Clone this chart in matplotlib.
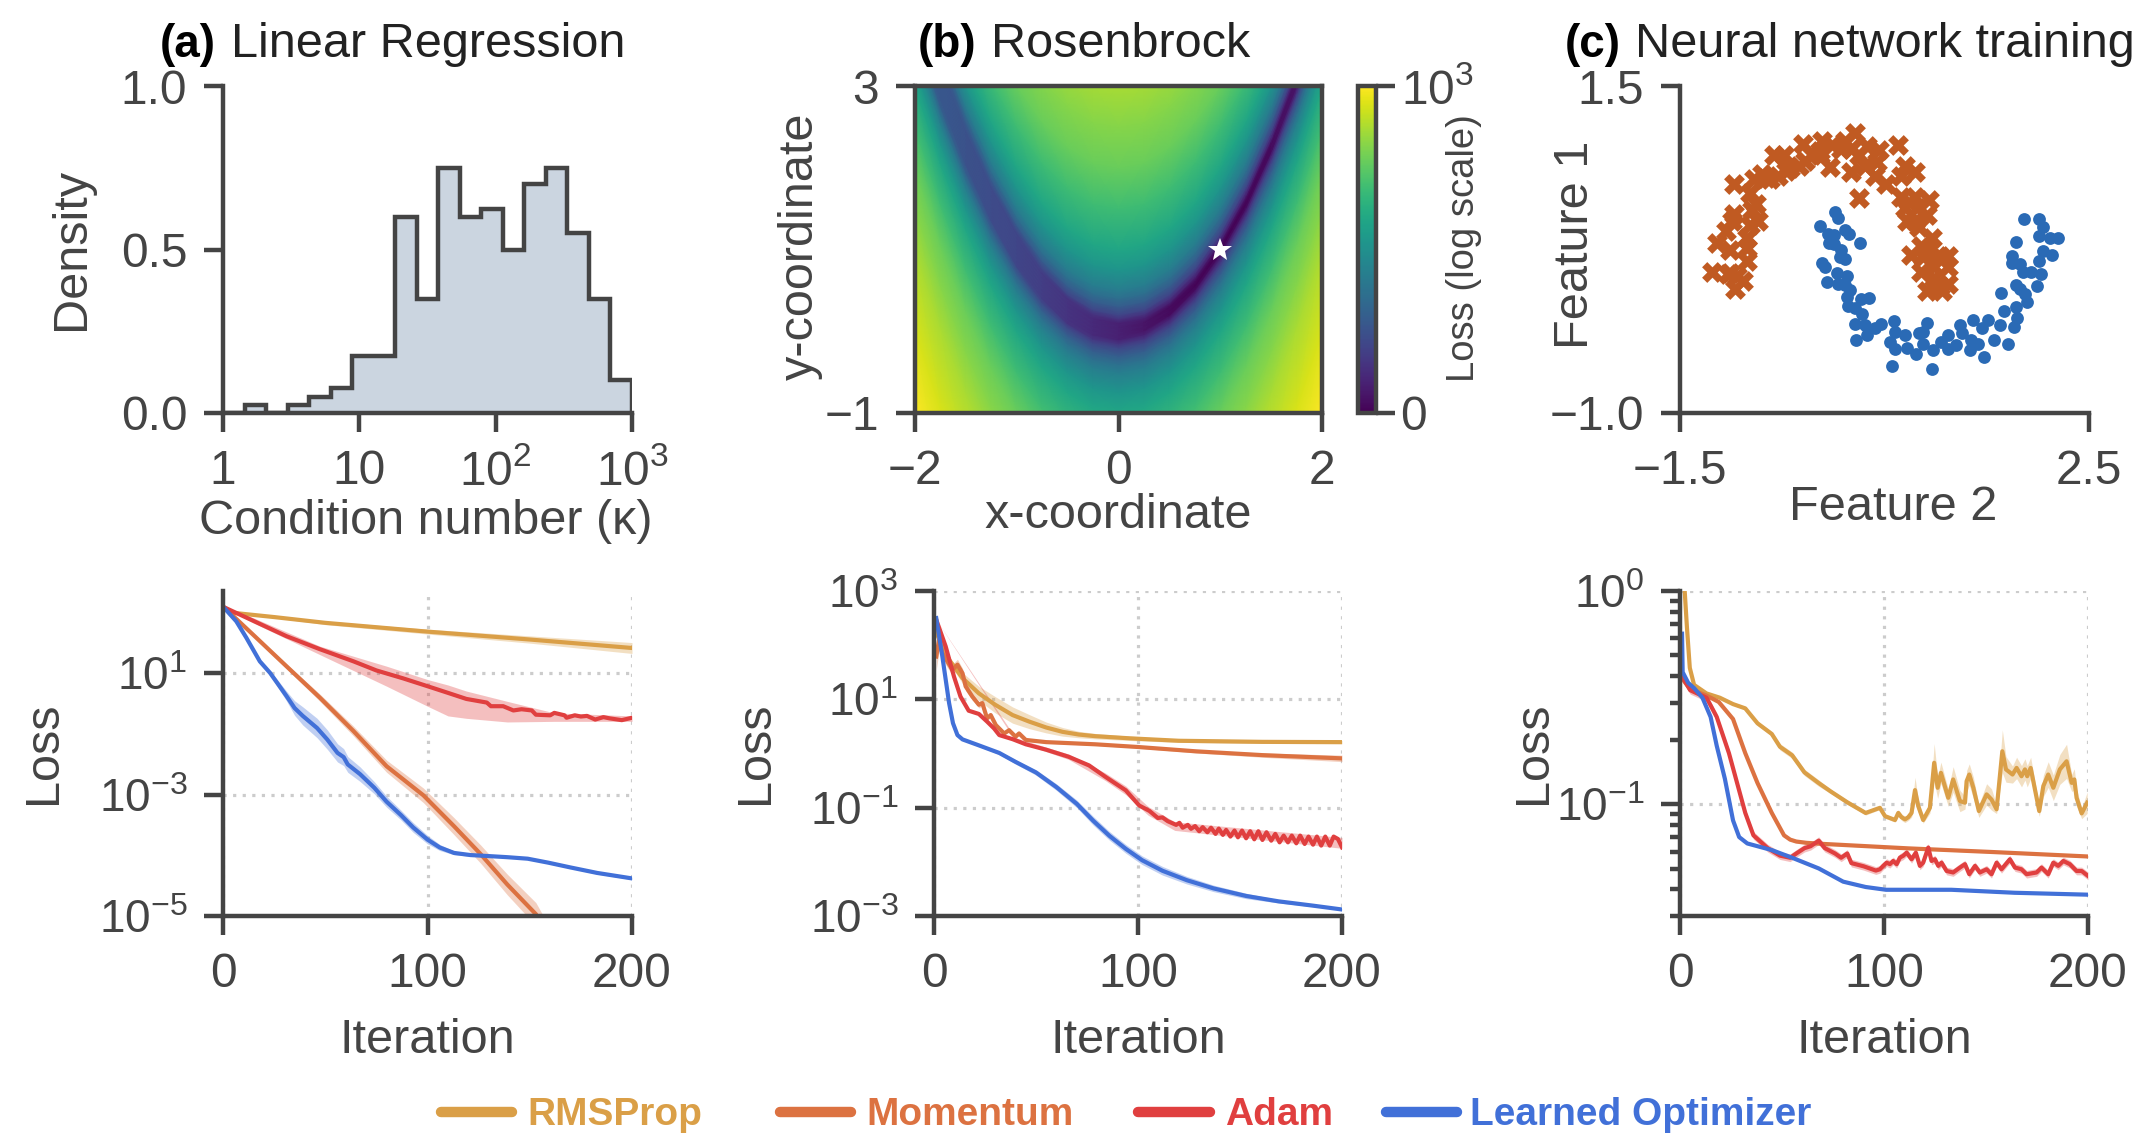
import matplotlib
matplotlib.use("Agg")
import matplotlib.pyplot as plt
from matplotlib.lines import Line2D
from matplotlib.ticker import NullLocator
import numpy as np

plt.rcParams['font.family'] = ['Liberation Sans', 'DejaVu Sans']
plt.rcParams['mathtext.fontset'] = 'custom'
plt.rcParams['mathtext.rm'] = 'Liberation Sans'
plt.rcParams['mathtext.default'] = 'regular'

GREY = '#444444'
RMS_COL = '#da9f47'
MOM_COL = '#dc7241'
ADAM_COL = '#e03f3f'
LEARNED_COL = '#4170d8'

# histogram of condition numbers
hist_edges = [1, 1.44, 2.07, 2.98, 4.28, 6.16, 8.86, 12.7, 18.3, 26.4, 37.9, 54.6, 78.5,
              113, 162, 234, 336, 483, 695, 1000]
hist_density = [0, 0.025, 0, 0.025, 0.05, 0.075, 0.175, 0.175, 0.6, 0.35, 0.75, 0.6, 0.625,
                0.5, 0.7, 0.75, 0.55, 0.35, 0.1]

# rosenbrock picture: read along the valley, then by distance above/below the valley
ros_x = [-2, -1.75, -1.5, -1.25, -1, -0.75, -0.5, -0.25, 0, 0.25, 0.5, 0.75, 1, 1.25, 1.5, 1.75, 2]
ros_valley_y = [4, 3.06, 2.25, 1.56, 1, 0.56, 0.25, 0.06, 0, 0.06, 0.25, 0.56, 1, 1.56, 2.25, 3.06, 4]
ros_valley_level = [0.29, 0.27, 0.25, 0.23, 0.21, 0.18, 0.15, 0.12, 0.09, 0.056, 0.03, 0.01, 0,
                    0.01, 0.03, 0.056, 0.09]
ros_offset = [-5, -4, -3, -2.5, -2, -1.5, -1, -0.75, -0.5, -0.4, -0.3, -0.2, -0.15, -0.1, -0.05, 0,
              0.05, 0.1, 0.15, 0.2, 0.3, 0.4, 0.5, 0.75, 1, 1.5, 2, 2.5, 3]
ros_offset_level = [1.0, 0.94, 0.87, 0.82, 0.77, 0.69, 0.59, 0.52, 0.42, 0.36, 0.29, 0.21, 0.15, 0.09, 0.03, 0,
                    0.03, 0.09, 0.15, 0.21, 0.29, 0.36, 0.42, 0.52, 0.59, 0.69, 0.77, 0.82, 0.87]
ros_star = (1, 1)

# two moons
moon_top_x = [-1.19, -1.01, -0.94, -0.88, -0.96, -1.03, -0.84, -0.84, -0.84, -1.01, -1.14, -1.05, -0.99, -0.97,
              -0.82, -0.74, -0.80, -0.76, -0.82, -0.97, -0.78, -0.70, -0.62, -0.54, -0.46, -0.58, -0.48, -0.34,
              -0.28, -0.30, -0.13, -0.11, -0.01, -0.03, 0.11, 0.21, 0.17, 0.25, 0.33, 0.45, 0.43, 0.31, 0.17,
              0.41, 0.51, 0.63, 0.70, 0.66, 0.80, 0.25, 0.66, 0.80, 0.94, 0.70, 0.92, 0.80, 0.72, 0.84, 0.96,
              0.86, 0.76, 0.88, 1.12, 1.04, 1.12, 0.86, 0.98, 0.98, 1.12, 1.04, 0.92, 1.06, 0.92, 0.82, 0.74,
              -0.13, 0.07, -0.21, -0.42, -0.66]
moon_top_y = [0.08, 0.07, 0.05, 0.01, -0.05, 0.06, 0.16, 0.26, 0.34, 0.25, 0.30, 0.39, 0.47, 0.52,
              0.44, 0.47, 0.55, 0.60, 0.68, 0.75, 0.79, 0.83, 0.79, 0.81, 0.85, 0.97, 0.97, 0.89,
              0.93, 1.06, 0.97, 1.08, 1.05, 0.88, 1.08, 1.14, 1.02, 0.97, 1.04, 1.01, 0.92, 0.89, 0.84,
              0.81, 0.75, 1.05, 0.89, 0.81, 0.84, 0.64, 0.65, 0.65, 0.63, 0.57, 0.51, 0.47, 0.47, 0.42, 0.34,
              0.28, 0.21, 0.19, 0.20, 0.20, 0.12, 0.08, 0.12, 0.03, -0.01, -0.03, -0.07, -0.07, 0.23, 0.57, 0.61,
              1.00, 1.02, 0.97, 0.87, 0.80]
moon_low_x = [0.02, 0.05, -0.13, -0.05, 0.01, 0.11, 0.15, -0.04, 0.01, 0.26, 0.07, 0.06, 0.11, -0.11, -0.08,
              0.04, 0.13, -0.06, 0.05, 0.11, 0.16, 0.13, 0.14, 0.21, 0.27, 0.35, 0.28, 0.21, 0.31, 0.47, 0.41,
              0.33, 0.22, 0.59, 0.60, 0.70, 0.55, 0.60, 0.72, 0.81, 0.88, 0.92, 0.88, 0.84, 0.57, 0.96, 0.97,
              1.05, 1.12, 1.12, 1.20, 1.24, 1.26, 1.35, 1.41, 1.34, 1.47, 1.57, 1.71, 1.37, 1.45, 1.51, 1.63,
              1.77, 1.67, 1.79, 1.80, 1.64, 1.79, 1.83, 1.87, 1.89, 1.99, 2.03, 1.93, 2.01, 2.14, 2.05, 1.75,
              1.75, 1.83, 1.79, 1.86, 2.01, 2.05, 2.01, 2.12, 2.20, 1.85]
moon_low_y = [0.54, 0.49, 0.43, 0.37, 0.36, 0.40, 0.37, 0.30, 0.29, 0.30, 0.25, 0.19, 0.18, 0.15, 0.12,
              0.07, 0.05, 0.00, -0.01, -0.02, -0.06, -0.11, -0.18, -0.20, -0.13, -0.12, -0.24, -0.32, -0.33,
              -0.32, -0.35, -0.40, -0.44, -0.30, -0.38, -0.40, -0.46, -0.51, -0.50, -0.55, -0.47, -0.31, -0.38,
              -0.39, -0.64, -0.66, -0.52, -0.46, -0.40, -0.51, -0.48, -0.33, -0.39, -0.44, -0.47, -0.52, -0.57,
              -0.44, -0.47, -0.29, -0.35, -0.29, -0.33, -0.34, -0.22, -0.19, -0.27, -0.08, -0.02, -0.05, -0.09,
              -0.15, -0.03, 0.06, 0.08, 0.16, 0.21, 0.24, 0.20, 0.15, 0.14, 0.31, 0.48, 0.48, 0.42, 0.35, 0.34,
              0.34, 0.08]

# loss curves: log10(loss) as read on each panel's axis, with band half widths
lr_rms_iter = [0, 5, 25, 50, 100, 150, 200]
lr_rms_log = [0.10, 0.0, -0.07, -0.165, -0.31, -0.44, -0.58]
lr_rms_spread = [0, 0.005, 0.01, 0.03, 0.04, 0.06, 0.09]
lr_mom_iter = [0, 0.8, 14.7, 31, 47.4, 63.8, 80, 98, 113, 126, 139, 153, 165]
lr_mom_log = [0.10, 0.08, -0.36, -0.88, -1.40, -1.95, -2.53, -3.01, -3.52, -3.98, -4.48, -4.97, -5.7]
lr_mom_spread = [0, 0, 0.02, 0.04, 0.06, 0.08, 0.1, 0.12, 0.14, 0.15, 0.17, 0.19, 0.2]
lr_adam_iter = [0, 14.7, 31, 47.4, 63.8, 75, 88, 100, 110, 119, 129, 131, 137, 142, 146, 151, 153, 160, 162, 167,
                168, 172, 175, 178, 182, 186, 189, 195, 200]
lr_adam_log = [0.10, -0.13, -0.385, -0.60, -0.80, -0.95, -1.08, -1.21, -1.32, -1.42, -1.48, -1.54, -1.54, -1.61,
               -1.59, -1.61, -1.68, -1.69, -1.65, -1.69, -1.73, -1.69, -1.71, -1.70, -1.76, -1.72, -1.74, -1.77, -1.73]
lr_adam_band_iter = [0, 14.7, 47.4, 80, 100, 110, 119, 139, 162, 200]
lr_adam_upper = [0.10, -0.08, -0.55, -0.88, -1.10, -1.19, -1.29, -1.46, -1.65, -1.70]
lr_adam_lower = [0.10, -0.165, -0.69, -1.21, -1.54, -1.70, -1.74, -1.80, -1.79, -1.79]
lr_learned_iter = [0, 1.3, 6.5, 11.4, 18, 23, 27, 31, 35, 39, 46, 51, 56, 59, 61, 67, 74, 80, 87, 93, 100, 106, 113,
                   121, 129, 139, 149, 159, 170, 183, 200]
lr_learned_log = [0.10, 0.055, -0.14, -0.41, -0.80, -0.99, -1.18, -1.37, -1.57, -1.70, -1.90, -2.09, -2.31, -2.38,
                  -2.50, -2.66, -2.885, -3.115, -3.335, -3.54, -3.74, -3.87, -3.96, -3.995, -4.01, -4.03, -4.055,
                  -4.12, -4.20, -4.29, -4.38]
lr_learned_spread = [0, 0, 0.005, 0.01, 0.02, 0.03, 0.06, 0.08, 0.12, 0.15, 0.16, 0.16, 0.15, 0.14, 0.13, 0.12, 0.1,
                     0.09, 0.08, 0.08, 0.07, 0.05, 0.03, 0.02, 0.015, 0.01, 0.01, 0.01, 0.015, 0.02, 0.02]

ros_rms_iter = [1.1, 7.4, 14, 22, 30, 38.5, 46.6, 55, 63, 71, 79, 96, 120, 161, 200]
ros_rms_log = [2.23, 1.73, 1.39, 1.11, 0.90, 0.71, 0.59, 0.48, 0.40, 0.35, 0.32, 0.28, 0.235, 0.215, 0.21]
ros_rms_spread = [0, 0.05, 0.1, 0.13, 0.15, 0.15, 0.13, 0.1, 0.08, 0.06, 0.05, 0.04, 0.03, 0.03, 0.03]
ros_mom_iter = [1.1, 2.5, 4.1, 9, 11.5, 14, 15.5, 18.8, 22, 23.7, 26, 27.8, 30.3, 34.4, 36.8, 40, 41.7, 45, 55, 79,
                100, 128.5, 161, 200]
ros_mom_log = [1.79, 2.10, 1.855, 1.545, 1.64, 1.48, 1.24, 1.05, 0.90, 0.93, 0.65, 0.71, 0.525, 0.37, 0.43, 0.31,
               0.37, 0.25, 0.21, 0.17, 0.12, 0.04, -0.03, -0.09]
ros_mom_spread = [0.25, 0.2, 0.12, 0.1, 0.1, 0.09, 0.08, 0.06, 0.06, 0.05, 0.05, 0.04, 0.04, 0.03, 0.03, 0.02, 0.02,
                  0.02, 0.02, 0.02, 0.02, 0.03, 0.04, 0.06]
ros_adam_iter = [1.1, 5.7, 9.8, 13, 17, 22, 26, 29.5, 32, 38.5, 45, 55, 66, 76, 84, 94, 100.6, 105.6, 109.7, 112,
                 114.6, 118.7, 120.3, 121.9, 124.4, 126, 128, 130, 131.7, 134, 135.8, 138, 139.6, 141.6, 143.2,
                 145.3, 147.3, 149, 151, 153, 155, 157, 159, 161, 163, 165.3, 167.3, 169.4, 171.4, 173.5, 175.4,
                 177.6, 179.5, 181.7, 183.6, 185.8, 187.7, 189.8, 191.8, 194, 195.9, 198, 200]
ros_adam_log = [2.47, 1.98, 1.42, 1.05, 0.79, 0.73, 0.59, 0.46, 0.34, 0.265, 0.17, 0.07, -0.06, -0.22, -0.43, -0.68,
                -0.96, -1.06, -1.19, -1.18, -1.25, -1.318, -1.28, -1.37, -1.318, -1.39, -1.34, -1.435, -1.36,
                -1.454, -1.37, -1.485, -1.386, -1.503, -1.41, -1.534, -1.423, -1.547, -1.423, -1.565, -1.435,
                -1.584, -1.435, -1.596, -1.454, -1.609, -1.485, -1.64, -1.516, -1.64, -1.516, -1.658, -1.516,
                -1.67, -1.534, -1.683, -1.534, -1.70, -1.534, -1.70, -1.534, -1.578, -1.732]
ros_adam_band_iter = [1.1, 40, 66, 84, 94, 105, 118, 200]
ros_adam_upper = [2.47, 0.29, -0.01, -0.36, -0.60, -0.98, -1.26, -1.55]
ros_adam_lower = [2.47, 0.23, -0.11, -0.50, -0.76, -1.14, -1.42, -1.75]
ros_learned_iter = [1.1, 4.1, 7.4, 9.3, 11.5, 14, 22, 32, 40, 50, 60, 70, 78, 86, 94, 102, 112, 124, 137, 153, 169,
                    186, 200]
ros_learned_log = [2.50, 1.79, 0.93, 0.56, 0.34, 0.26, 0.15, 0.01, -0.155, -0.35, -0.62, -0.93, -1.24, -1.52, -1.76,
                   -1.97, -2.165, -2.34, -2.49, -2.63, -2.73, -2.81, -2.88]
ros_learned_spread = [0, 0, 0, 0.005, 0.01, 0.015, 0.02, 0.03, 0.04, 0.05, 0.06, 0.07, 0.08, 0.08, 0.08, 0.08, 0.08,
                      0.07, 0.06, 0.05, 0.03, 0.02, 0.01]

nn_rms_iter = [2.3, 3.4, 4.8, 6.9, 13, 19.5, 26, 32, 38, 45, 49, 55, 61, 68, 74, 82, 91, 98, 100.5, 105.4, 107, 108.6,
               110.3, 111.9, 113.5, 115.2, 116.8, 119.2, 122.5, 124.6, 126.3, 127.9, 131.5, 133.9, 137.2, 139.7,
               140.5, 141.8, 143.8, 146.5, 150.3, 152.7, 155.2, 158, 159.8, 163, 165, 167.4, 169.1, 170.2, 171.9,
               176.1, 178.1, 180.5, 183, 186.2, 189.5, 192, 193.3, 194.4, 196.9, 199.6]
nn_rms_log = [0.0, -0.17, -0.36, -0.44, -0.48, -0.50, -0.53, -0.55, -0.62, -0.67, -0.73, -0.77, -0.85, -0.90, -0.94,
              -0.99, -1.04, -1.016, -1.055, -1.073, -1.04, -1.06, -1.07, -1.06, -1.04, -0.933, -1.008, -1.073, -1.016,
              -0.805, -0.922, -0.852, -0.969, -0.883, -0.984, -0.992, -0.891, -0.86, -0.922, -1.031, -0.953, -0.977,
              -1.023, -0.751, -0.836, -0.86, -0.829, -0.868, -0.836, -0.868, -0.829, -1.031, -0.914, -0.86, -0.922,
              -0.836, -0.798, -0.899, -0.883, -0.969, -1.042, -0.992]
nn_rms_spread = [0, 0, 0, 0, 0.005, 0.005, 0.005, 0.005, 0.01, 0.01, 0.015, 0.015, 0.015, 0.015, 0.01, 0.01, 0.01,
                 0.008, 0.01, 0.01, 0.015, 0.015, 0.015, 0.015, 0.02, 0.06, 0.03, 0.015, 0.025, 0.09, 0.05, 0.05,
                 0.04, 0.06, 0.05, 0.03, 0.05, 0.05, 0.05, 0.03, 0.05, 0.05, 0.02, 0.1, 0.06, 0.04, 0.05, 0.05,
                 0.05, 0.05, 0.05, 0.025, 0.05, 0.06, 0.06, 0.07, 0.08, 0.04, 0.05, 0.04, 0.025, 0.05]
nn_mom_iter = [1, 5, 13, 19, 26, 32, 38, 45, 51, 54, 57, 62, 70, 112, 153, 200]
nn_mom_log = [-0.41, -0.46, -0.49, -0.52, -0.60, -0.76, -0.90, -1.04, -1.145, -1.165, -1.174, -1.18, -1.185, -1.206,
              -1.223, -1.244]
nn_adam_iter = [1, 5, 13, 18, 24, 28, 32, 36, 43, 49, 54, 57, 61, 64, 68, 71, 76, 79, 82, 84, 90, 96, 98, 99.6, 101.3,
                102.9, 104.5, 106.2, 107.8, 109.4, 111.1, 113.5, 115.6, 117.6, 119.2, 121.7, 123.3, 125, 126.6, 128.2,
                130.7, 133.9, 137.2, 139.7, 141.8, 144.6, 147, 150.3, 152.7, 155.2, 157.6, 161.7, 164.2, 167.4,
                169.9, 174.8, 177.2, 180.5, 183, 185.4, 187.9, 191.1, 194.4, 196.9, 200]
nn_adam_log = [-0.40, -0.465, -0.50, -0.59, -0.76, -0.90, -1.04, -1.145, -1.205, -1.24, -1.25, -1.23, -1.205, -1.196,
               -1.17, -1.205, -1.23, -1.25, -1.23, -1.275, -1.29, -1.31, -1.304, -1.288, -1.273, -1.28, -1.265, -1.28,
               -1.249, -1.241, -1.226, -1.257, -1.226, -1.288, -1.273, -1.202, -1.265, -1.257, -1.288, -1.273, -1.312,
               -1.319, -1.296, -1.28, -1.327, -1.288, -1.319, -1.304, -1.327, -1.273, -1.304, -1.257, -1.296, -1.304,
               -1.327, -1.319, -1.296, -1.327, -1.273, -1.288, -1.265, -1.28, -1.312, -1.312, -1.335]
nn_learned_iter = [1, 1.3, 4, 7, 11, 15, 18, 22, 26, 29, 33, 45, 55, 68, 80, 91, 101, 133, 164, 200]
nn_learned_log = [-0.20, -0.38, -0.43, -0.456, -0.50, -0.59, -0.725, -0.88, -1.075, -1.153, -1.183, -1.214, -1.25,
                  -1.30, -1.362, -1.387, -1.40, -1.40, -1.414, -1.423]

legend_names = ['RMSProp', 'Momentum', 'Adam', 'Learned Optimizer']

W, H = 2150, 1144
fig = plt.figure(figsize=(W / 100, H / 100), dpi=100)


def axes_px(left, right, top, bottom):
    """makes an axes from pixel edges of the picture"""
    return fig.add_axes([left / W, 1 - bottom / H, (right - left) / W, (bottom - top) / H])


def style_axes(ax, all_spines=False):
    for name, spine in ax.spines.items():
        spine.set_linewidth(3.2)
        spine.set_color(GREY)
        if not all_spines and name in ('top', 'right'):
            spine.set_visible(False)
    ax.tick_params(which='major', length=13.7, width=3.2, color=GREY, labelcolor=GREY, labelsize=34.5, pad=12)
    ax.tick_params(which='minor', length=7, width=3.2, color=GREY)


def place_labels(ax, xlabel, ylabel, x_px, xlabel_y_px, ylabel_x_px, y_px):
    """puts the axis labels at pixel centres of the picture"""
    box = ax.get_position()
    left, width = box.x0 * W, box.width * W
    top, height = (1 - box.y1) * H, box.height * H
    ax.set_xlabel(xlabel, fontsize=35, color=GREY, va='center')
    ax.set_ylabel(ylabel, fontsize=35, color=GREY, va='center')
    ax.xaxis.set_label_coords((x_px - left) / width, 1 - (xlabel_y_px - top) / height)
    ax.yaxis.set_label_coords((ylabel_x_px - left) / width, 1 - (y_px - top) / height)


def panel_title(tag, tag_x, title, title_x):
    fig.text(tag_x / W, 1 - 57 / H, tag, fontsize=33, fontweight='bold', color='black', va='baseline')
    fig.text(title_x / W, 1 - 57 / H, title, fontsize=35, color='#222222', va='baseline')


def draw_curve(ax, iters, log_loss, colour, spread=None):
    iters = np.array(iters)
    log_loss = np.array(log_loss)
    if spread is not None:
        spread = np.array(spread)
        ax.fill_between(iters, 10 ** (log_loss - spread), 10 ** (log_loss + spread),
                        color=colour, alpha=0.33, linewidth=0)
    ax.plot(iters, 10 ** log_loss, color=colour, linewidth=3)


def draw_band(ax, iters, lower, upper, colour):
    ax.fill_between(iters, 10 ** np.array(lower), 10 ** np.array(upper), color=colour, alpha=0.33, linewidth=0)


def loss_axes(left, right, ymin, ymax, ticks, tick_labels):
    ax = axes_px(left, right, 591, 916)
    style_axes(ax)
    ax.set_yscale('log')
    ax.set_xlim(0, 200)
    ax.set_ylim(ymin, ymax)
    ax.set_xticks([0, 100, 200])
    ax.set_yticks(ticks)
    ax.set_yticklabels(tick_labels)
    ax.tick_params(axis='y', labelsize=33)
    ax.yaxis.set_minor_locator(NullLocator())
    ax.grid(True, which='major', linestyle=(0, (1, 2)), linewidth=2.3, color='#cccccc')
    ax.set_axisbelow(True)
    return ax


# (a) histogram
ax = axes_px(223, 632, 86, 413)
style_axes(ax)
ax.set_xscale('log')
ax.stairs(hist_density, hist_edges, fill=True, color='#cbd5e0', linewidth=0)
ax.stairs(hist_density, hist_edges, fill=False, baseline=0, color=GREY, linewidth=3.2)
ax.set_xlim(1, 1000)
ax.set_ylim(0, 1)
ax.set_xticks([1, 10, 100, 1000])
ax.set_xticklabels(['1', '10', '$10^2$', '$10^3$'])
ax.xaxis.set_minor_locator(NullLocator())
ax.set_yticks([0, 0.5, 1])
ax.set_yticklabels(['0.0', '0.5', '1.0'])
place_labels(ax, 'Condition number (κ)', 'Density', 426, 522, 72, 249)
panel_title('(a)', 160, 'Linear Regression', 231)

# (b) rosenbrock surface
ax = axes_px(915, 1322, 86, 413)
style_axes(ax, all_spines=True)
mesh_x = np.repeat(np.array(ros_x)[:, None], len(ros_offset), axis=1)
mesh_y = np.array(ros_valley_y)[:, None] + np.array(ros_offset)[None, :]
mesh_level = np.maximum.outer(np.array(ros_valley_level), np.array(ros_offset_level))
mesh = ax.pcolormesh(mesh_x, mesh_y, mesh_level, shading='gouraud', cmap='viridis', vmin=0, vmax=1)
ax.plot(ros_star[0], ros_star[1], marker='*', color='white', markersize=18, markeredgewidth=0)
ax.set_xlim(-2, 2)
ax.set_ylim(-1, 3)
ax.set_xticks([-2, 0, 2])
ax.set_yticks([-1, 3])
place_labels(ax, 'x-coordinate', 'y-coordinate', 1118, 516, 800, 246)
panel_title('(b)', 918, 'Rosenbrock', 991)

cax = axes_px(1358, 1376, 86, 413)
cbar = fig.colorbar(mesh, cax=cax)
cbar.outline.set_linewidth(3.2)
cbar.outline.set_edgecolor(GREY)
cax.tick_params(length=13.7, width=3.2, color=GREY, labelcolor=GREY, labelsize=34.5, pad=4)
cbar.set_ticks([0, 1])
cbar.set_ticklabels(['0', '$10^3$'])
cbar.ax.minorticks_off()
fig.text(1464 / W, 1 - 248 / H, 'Loss (log scale)', fontsize=27.5, color=GREY, rotation=90,
         ha='center', va='center')

# (c) two moons
ax = axes_px(1680, 2089, 86, 413)
style_axes(ax)
ax.scatter(moon_top_x, moon_top_y, marker='X', s=225, color='#c05a22', linewidths=0)
ax.scatter(moon_low_x, moon_low_y, marker='o', s=85, color='#2a6ab5', linewidths=0)
ax.set_xlim(-1.5, 2.5)
ax.set_ylim(-1, 1.5)
ax.set_xticks([-1.5, 2.5])
ax.set_yticks([-1, 1.5])
ax.set_yticklabels(['\u22121.0', '1.5'])
place_labels(ax, 'Feature 2', 'Feature 1', 1893, 508, 1576, 245)
panel_title('(c)', 1565, 'Neural network training', 1635)

# bottom row, linear regression. The middle tick really is labelled 10^1 in the figure
ax = loss_axes(223, 632, 1e-5, 10 ** 0.36, [1e-5, 1e-3, 1e-1], ['$10^{-5}$', '$10^{-3}$', '$10^{1}$'])
draw_curve(ax, lr_rms_iter, lr_rms_log, RMS_COL, lr_rms_spread)
draw_curve(ax, lr_mom_iter, lr_mom_log, MOM_COL, lr_mom_spread)
draw_band(ax, lr_adam_band_iter, lr_adam_lower, lr_adam_upper, ADAM_COL)
draw_curve(ax, lr_adam_iter, lr_adam_log, ADAM_COL)
draw_curve(ax, lr_learned_iter, lr_learned_log, LEARNED_COL, lr_learned_spread)
place_labels(ax, 'Iteration', 'Loss', 427, 1041, 44, 753)

# bottom row, rosenbrock
ax = loss_axes(934, 1342, 1e-3, 1e3, [1e-3, 1e-1, 1e1, 1e3],
               ['$10^{-3}$', '$10^{-1}$', '$10^{1}$', '$10^{3}$'])
draw_curve(ax, ros_rms_iter, ros_rms_log, RMS_COL, ros_rms_spread)
draw_curve(ax, ros_mom_iter, ros_mom_log, MOM_COL, ros_mom_spread)
draw_band(ax, ros_adam_band_iter, ros_adam_lower, ros_adam_upper, ADAM_COL)
draw_curve(ax, ros_adam_iter, ros_adam_log, ADAM_COL)
draw_curve(ax, ros_learned_iter, ros_learned_log, LEARNED_COL, ros_learned_spread)
place_labels(ax, 'Iteration', 'Loss', 1138, 1041, 755, 753)

# bottom row, neural network
ax = loss_axes(1680, 2088, 0.03, 1, [1e-1, 1], ['$10^{-1}$', '$10^{0}$'])
ax.set_yticks([0.03, 0.04, 0.05, 0.06, 0.07, 0.08, 0.09, 0.2, 0.3, 0.4, 0.5, 0.6, 0.7, 0.8, 0.9], minor=True)
ax.set_yticklabels([''] * 15, minor=True)
draw_curve(ax, nn_rms_iter, nn_rms_log, RMS_COL, nn_rms_spread)
draw_curve(ax, nn_mom_iter, nn_mom_log, MOM_COL, 0.005)
draw_curve(ax, nn_adam_iter, nn_adam_log, ADAM_COL, 0.018)
draw_curve(ax, nn_learned_iter, nn_learned_log, LEARNED_COL, 0.004)
place_labels(ax, 'Iteration', 'Loss', 1884, 1041, 1534, 753)

# legend, placed by hand like the figure
legend_spots = [(441, 512, 527), (780, 851, 866), (1138, 1210, 1225), (1386, 1457, 1470)]
for name, colour, spot in zip(legend_names, [RMS_COL, MOM_COL, ADAM_COL, LEARNED_COL], legend_spots):
    fig.add_artist(Line2D([spot[0] / W, spot[1] / W], [1 - 1112 / H, 1 - 1112 / H], color=colour,
                          linewidth=7.5, solid_capstyle='round'))
    fig.text(spot[2] / W, 1 - 1115 / H, name, fontsize=28, fontweight='bold', color=colour, va='center')

fig.savefig('out.png', dpi=100)
